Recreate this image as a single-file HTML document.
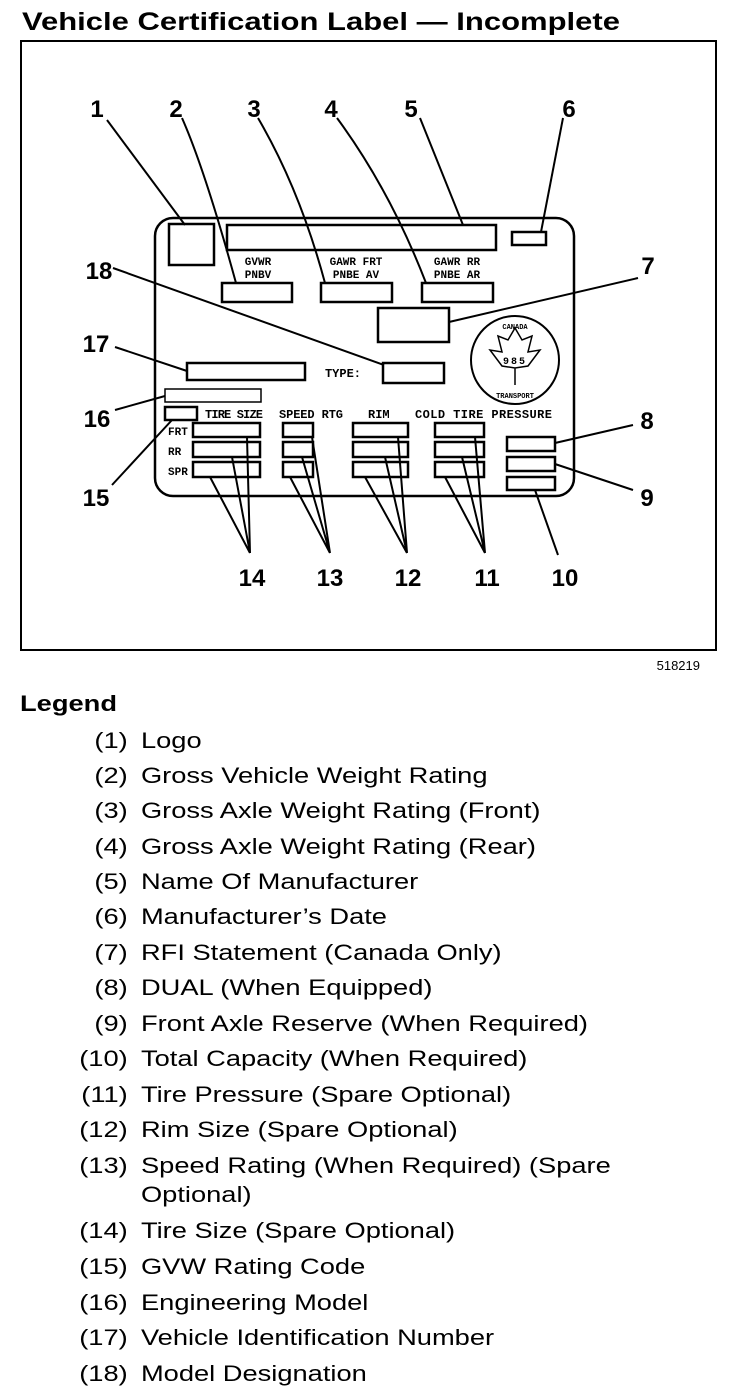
<!DOCTYPE html>
<html><head><meta charset="utf-8"><style>
body{margin:0;background:#fff;width:736px;height:1400px;overflow:hidden;font-family:"Liberation Sans",sans-serif;}
svg{position:absolute;left:0;top:0}
</style></head><body>
<svg width="736" height="1400" viewBox="0 0 736 1400" font-family="Liberation Sans, sans-serif">
<text x="22" y="30" font-size="25" font-weight="bold" textLength="598" lengthAdjust="spacingAndGlyphs">Vehicle Certification Label — Incomplete</text>
<rect x="21" y="41" width="695" height="609" fill="none" stroke="#000" stroke-width="2"/>
<text x="700" y="670" font-size="13" text-anchor="end">518219</text>
<g fill="none" stroke="#000" stroke-width="2.5">
<rect x="155" y="218" width="419" height="278" rx="18"/>
<rect x="169" y="224" width="45" height="41"/>
<rect x="227" y="225" width="269" height="25"/>
<rect x="512" y="232" width="34" height="13"/>
<rect x="222" y="283" width="70" height="19"/>
<rect x="321" y="283" width="71" height="19"/>
<rect x="422" y="283" width="71" height="19"/>
<rect x="378" y="308" width="71" height="34"/>
<circle cx="515" cy="360" r="44" stroke-width="2"/>
<rect x="187" y="363" width="118" height="17"/>
<rect x="383" y="363" width="61" height="20"/>
<rect x="165" y="389" width="96" height="13" stroke-width="1.5"/>
<rect x="165" y="407" width="32" height="13"/>
<rect x="193" y="423" width="67" height="14"/><rect x="193" y="442" width="67" height="15"/><rect x="193" y="462" width="67" height="15"/>
<rect x="283" y="423" width="30" height="14"/><rect x="283" y="442" width="30" height="15"/><rect x="283" y="462" width="30" height="15"/>
<rect x="353" y="423" width="55" height="14"/><rect x="353" y="442" width="55" height="15"/><rect x="353" y="462" width="55" height="15"/>
<rect x="435" y="423" width="49" height="14"/><rect x="435" y="442" width="49" height="15"/><rect x="435" y="462" width="49" height="15"/>
<rect x="507" y="437" width="48" height="14"/><rect x="507" y="457" width="48" height="14"/><rect x="507" y="477" width="48" height="13"/>
</g>
<g stroke="#000" stroke-width="2" fill="none">
<line x1="107" y1="120" x2="185" y2="225"/>
<path d="M182 118 Q205 170 236 283"/>
<path d="M258 118 Q300 190 325 283"/>
<path d="M337 118 Q390 190 426 283"/>
<line x1="420" y1="118" x2="463" y2="225"/>
<line x1="563" y1="118" x2="541" y2="232"/>
<line x1="638" y1="278" x2="449" y2="322"/>
<line x1="113" y1="268" x2="384" y2="365"/>
<line x1="115" y1="347" x2="187" y2="371"/>
<line x1="115" y1="410" x2="165" y2="396"/>
<line x1="112" y1="485" x2="172" y2="420"/>
<line x1="633" y1="425" x2="555" y2="443"/>
<line x1="633" y1="490" x2="555" y2="464"/>
<line x1="558" y1="555" x2="535" y2="490"/>
<path d="M210 477L250 553M232 457L250 553M247 437L250 553"/>
<path d="M290 477L330 553M302 457L330 553M312 437L330 553"/>
<path d="M365 477L407 553M385 457L407 553M398 437L407 553"/>
<path d="M445 477L485 553M462 457L485 553M475 437L485 553"/>
</g>
<g font-family="Liberation Mono, monospace" font-size="11" font-weight="bold" text-anchor="middle">
<text x="258" y="265">GVWR</text><text x="258" y="278">PNBV</text>
<text x="356" y="265">GAWR FRT</text><text x="356" y="278">PNBE AV</text>
<text x="457" y="265">GAWR RR</text><text x="457" y="278">PNBE AR</text>
<text x="343" y="377" font-size="12">TYPE:</text>
<text x="205" y="418" text-anchor="start" font-size="12" textLength="58">TIRE SIZE</text>
<text x="279" y="418" text-anchor="start" font-size="12" textLength="64">SPEED RTG</text>
<text x="368" y="418" text-anchor="start" font-size="12">RIM</text>
<text x="415" y="418" text-anchor="start" font-size="12" textLength="137">COLD TIRE PRESSURE</text>
<text x="168" y="435" text-anchor="start">FRT</text>
<text x="168" y="455" text-anchor="start">RR</text>
<text x="168" y="475" text-anchor="start">SPR</text>
<text x="515" y="329" font-size="7">CANADA</text>
<text x="515" y="364" font-size="10" letter-spacing="2">985</text>
<text x="515" y="398" font-size="7">TRANSPORT</text>
</g>
<path d="M515 328 L522 340 L532 336 L528 352 L540 350 L528 366 L515 368 L502 366 L490 350 L502 352 L498 336 L508 340Z M515 368 L515 385" fill="none" stroke="#000" stroke-width="1.5"/>
<g font-size="24" font-weight="bold" text-anchor="middle">
<text x="97" y="117">1</text><text x="176" y="117">2</text><text x="254" y="117">3</text><text x="331" y="117">4</text><text x="411" y="117">5</text><text x="569" y="117">6</text>
<text x="648" y="274">7</text><text x="99" y="279">18</text><text x="96" y="352">17</text><text x="97" y="427">16</text><text x="96" y="506">15</text>
<text x="647" y="429">8</text><text x="647" y="506">9</text>
<text x="565" y="586">10</text><text x="487" y="586">11</text><text x="408" y="586">12</text><text x="330" y="586">13</text><text x="252" y="586">14</text>
</g>
<text x="20" y="711" font-size="22" font-weight="bold" textLength="97" lengthAdjust="spacingAndGlyphs">Legend</text>
<g font-size="22" transform="scale(1.24,1)">
<g text-anchor="end">
<text x="103" y="748">(1)</text><text x="103" y="783">(2)</text><text x="103" y="818">(3)</text><text x="103" y="854">(4)</text><text x="103" y="889">(5)</text><text x="103" y="924">(6)</text><text x="103" y="960">(7)</text><text x="103" y="995">(8)</text><text x="103" y="1031">(9)</text><text x="103" y="1066">(10)</text><text x="103" y="1102">(11)</text><text x="103" y="1137">(12)</text><text x="103" y="1173">(13)</text><text x="103" y="1238">(14)</text><text x="103" y="1274">(15)</text><text x="103" y="1310">(16)</text><text x="103" y="1345">(17)</text><text x="103" y="1381">(18)</text>
</g>
<g>
<text x="113.7" y="748">Logo</text>
<text x="113.7" y="783">Gross Vehicle Weight Rating</text>
<text x="113.7" y="818">Gross Axle Weight Rating (Front)</text>
<text x="113.7" y="854">Gross Axle Weight Rating (Rear)</text>
<text x="113.7" y="889">Name Of Manufacturer</text>
<text x="113.7" y="924">Manufacturer’s Date</text>
<text x="113.7" y="960">RFI Statement (Canada Only)</text>
<text x="113.7" y="995">DUAL (When Equipped)</text>
<text x="113.7" y="1031">Front Axle Reserve (When Required)</text>
<text x="113.7" y="1066">Total Capacity (When Required)</text>
<text x="113.7" y="1102">Tire Pressure (Spare Optional)</text>
<text x="113.7" y="1137">Rim Size (Spare Optional)</text>
<text x="113.7" y="1173">Speed Rating (When Required) (Spare</text>
<text x="113.7" y="1202">Optional)</text>
<text x="113.7" y="1238">Tire Size (Spare Optional)</text>
<text x="113.7" y="1274">GVW Rating Code</text>
<text x="113.7" y="1310">Engineering Model</text>
<text x="113.7" y="1345">Vehicle Identification Number</text>
<text x="113.7" y="1381">Model Designation</text>
</g>
</g>
</svg>
</body></html>
